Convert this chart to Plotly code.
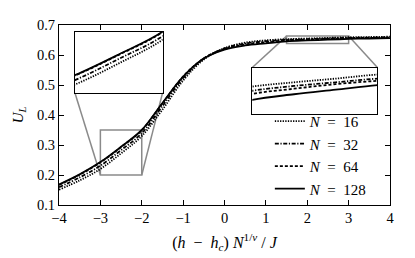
import plotly.graph_objects as go

# ---- data ----
x_vals = [-4, -3.5, -3, -2.5, -2, -1.5, -1, -0.5, 0, 0.5, 1, 1.5, 2, 2.5, 3, 3.5, 4]
u_n16 = [0.151, 0.182, 0.220, 0.272, 0.330, 0.418, 0.515, 0.585, 0.623, 0.641, 0.649, 0.6527, 0.655, 0.657, 0.6592, 0.660, 0.661]
u_n32 = [0.159, 0.192, 0.231, 0.283, 0.339, 0.430, 0.523, 0.588, 0.622, 0.638, 0.646, 0.6504, 0.653, 0.655, 0.657, 0.658, 0.659]
u_n64 = [0.167, 0.201, 0.242, 0.293, 0.349, 0.439, 0.528, 0.589, 0.620, 0.635, 0.643, 0.6487, 0.6515, 0.654, 0.6558, 0.657, 0.658]
u_n128 = [0.168, 0.202, 0.243, 0.294, 0.350, 0.440, 0.528, 0.588, 0.618, 0.632, 0.639, 0.6454, 0.6485, 0.651, 0.6535, 0.655, 0.6565]
series_names = ["<i>N</i>&nbsp;&nbsp;=&nbsp;&nbsp;16", "<i>N</i>&nbsp;&nbsp;=&nbsp;&nbsp;32",
                "<i>N</i>&nbsp;&nbsp;=&nbsp;&nbsp;64", "<i>N</i>&nbsp;&nbsp;=&nbsp;&nbsp;128"]
series_vals = [u_n16, u_n32, u_n64, u_n128]

x_ticks = [-4, -3, -2, -1, 0, 1, 2, 3, 4]
y_ticks = [0.1, 0.2, 0.3, 0.4, 0.5, 0.6, 0.7]

main_xr = [-4, 4]
main_yr = [0.1, 0.7]
in1_xr = [-3, -2]
in1_yr = [0.2, 0.35]
in2_xr = [1.5, 3]
in2_yr = [0.638, 0.663]

# ---- styles ----
dashes = ["1.3px,1.3px", "4px,1.6px,1.2px,1.6px", "3px,2px", "solid"]
FONT = "Liberation Serif"
LW = 1.8

fig = go.Figure()
for axx, axy, show in (("x", "y", True), ("x2", "y2", False), ("x3", "y3", False)):
    for name, vals, d in zip(series_names, series_vals, dashes):
        fig.add_trace(go.Scatter(x=x_vals, y=vals, mode="lines", name=name,
                                 line=dict(color="black", width=LW, dash=d, shape="spline"),
                                 xaxis=axx, yaxis=axy, showlegend=show))

in1_dx = [0.048, 0.313]
in1_dy = [0.624, 0.963]
in2_dx = [0.584, 0.962]
in2_dy = [0.508, 0.7635]

axis_common = dict(showline=True, linecolor="black", linewidth=1, mirror="ticks",
                   ticks="inside", ticklen=5, tickcolor="black", showgrid=False,
                   zeroline=False, tickfont=dict(family=FONT, size=14.5, color="black"))

inset_common = dict(showline=True, linecolor="black", linewidth=1, mirror=True,
                    showticklabels=False, ticks="", showgrid=False, zeroline=False)

x_title = ("(<i>h</i>&nbsp;&nbsp;−&nbsp;&nbsp;<i>h</i><sub><i>c</i></sub>)&nbsp;<i>N</i>"
           "<sup>1/<i>ν</i></sup>&nbsp;/&nbsp;<i>J</i>")

# the page adds an 8px body margin, so the figure is drawn 8px smaller
fig.update_layout(
    width=407, height=250, autosize=False,
    margin=dict(l=50, r=25, t=9, b=52),
    paper_bgcolor="white", plot_bgcolor="white",
    font=dict(family=FONT, size=14, color="black"),
    xaxis=dict(range=main_xr, tickvals=x_ticks, domain=[0, 1],
               title=dict(text=x_title, font=dict(family=FONT, size=16), standoff=11),
               **axis_common),
    yaxis=dict(range=main_yr, tickvals=y_ticks, tickformat=".1f", domain=[0, 1],
               title=dict(text="<i>U<sub>L</sub></i>", font=dict(family=FONT, size=15), standoff=9),
               **axis_common),
    xaxis2=dict(range=in1_xr, domain=in1_dx, anchor="y2", **inset_common),
    yaxis2=dict(range=in1_yr, domain=in1_dy, anchor="x2", **inset_common),
    xaxis3=dict(range=in2_xr, domain=in2_dx, anchor="y3", **inset_common),
    yaxis3=dict(range=in2_yr, domain=in2_dy, anchor="x3", **inset_common),
    legend=dict(x=0.637, y=0.556, xanchor="left", yanchor="top", bgcolor="rgba(0,0,0,0)",
                borderwidth=0, font=dict(family=FONT, size=15), tracegroupgap=0,
                itemwidth=30),
    showlegend=True,
)

# helper: convert inset domain position into main data coords
def mx(d):
    return main_xr[0] + d * (main_xr[1] - main_xr[0])

def my(d):
    return main_yr[0] + d * (main_yr[1] - main_yr[0])

gray = "#8a8a8a"
shapes = [
    dict(type="rect", xref="x", yref="y", x0=in1_xr[0], x1=in1_xr[1], y0=in1_yr[0], y1=in1_yr[1],
         line=dict(color=gray, width=1.5), layer="below"),
    dict(type="rect", xref="x", yref="y", x0=in2_xr[0], x1=in2_xr[1], y0=in2_yr[0], y1=in2_yr[1],
         line=dict(color=gray, width=1.5), layer="below"),
    dict(type="line", xref="x", yref="y", x0=mx(in1_dx[0]), y0=my(in1_dy[0]), x1=in1_xr[0], y1=in1_yr[0],
         line=dict(color=gray, width=1.5), layer="below"),
    dict(type="line", xref="x", yref="y", x0=mx(in1_dx[1]), y0=my(in1_dy[0]), x1=in1_xr[1], y1=in1_yr[0],
         line=dict(color=gray, width=1.5), layer="below"),
    dict(type="line", xref="x", yref="y", x0=mx(in2_dx[0]), y0=my(in2_dy[1]), x1=in2_xr[0], y1=in2_yr[1],
         line=dict(color=gray, width=1.5), layer="below"),
    dict(type="line", xref="x", yref="y", x0=mx(in2_dx[1]), y0=my(in2_dy[1]), x1=in2_xr[1], y1=in2_yr[1],
         line=dict(color=gray, width=1.5), layer="below"),
]
fig.update_layout(shapes=shapes)

fig.write_html("out.html")
